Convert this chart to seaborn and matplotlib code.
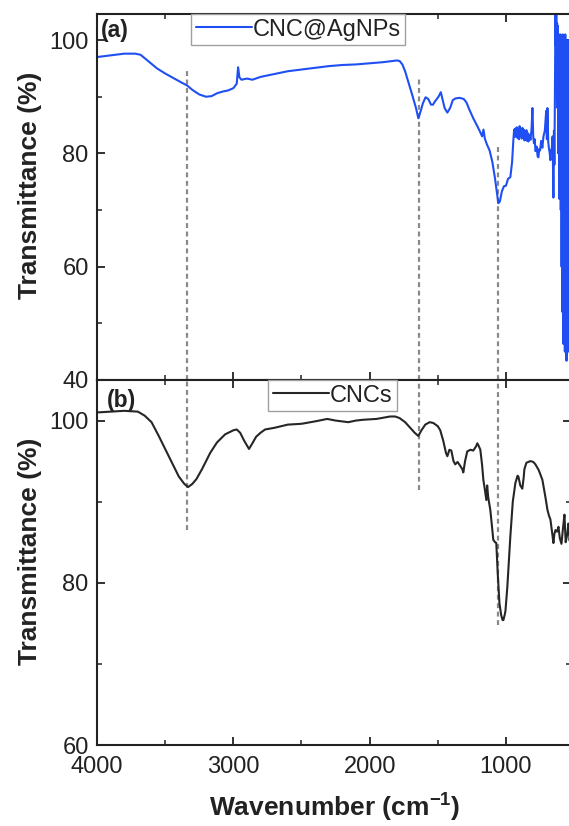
import matplotlib
matplotlib.use("Agg")
import matplotlib.pyplot as plt
import seaborn as sns
import pandas as pd
from matplotlib.ticker import MultipleLocator

# ---------------- data ----------------
agnp_wn = [4000, 3900, 3800, 3720, 3680, 3620, 3560, 3500, 3440, 3380, 3340, 3300, 3250, 3200,
           3160, 3120, 3080, 3040, 3000, 2975, 2965, 2955, 2940, 2900, 2860, 2800, 2700, 2600,
           2500, 2400, 2300, 2200, 2100, 2000, 1900, 1800, 1780, 1760, 1740, 1720, 1690, 1660,
           1643, 1625, 1610, 1590, 1570, 1550, 1535, 1520, 1495, 1478, 1465, 1450, 1430, 1410,
           1390, 1370, 1340, 1310, 1290, 1270, 1240, 1210, 1190, 1175, 1165, 1155, 1140, 1120,
           1100, 1080, 1065, 1056, 1045, 1030, 1015, 1000, 985, 968, 955, 946, 940, 935, 930,
           925, 920, 915, 910, 905, 900, 895, 890, 885, 880, 875, 870, 865, 860, 855, 850, 845,
           840, 835, 828, 820, 812, 806, 800, 795, 790, 783, 775, 768, 762, 756, 750, 742, 733,
           725, 715, 705, 700, 696, 690, 685, 680, 674, 670, 665, 658, 652, 648, 645,
           641, 637, 634, 631, 628, 625, 622, 619, 616, 613, 610, 607, 604, 601, 598,
           595, 592, 589, 586, 583, 580, 577, 574, 571, 568, 565, 562, 559, 556, 553,
           550, 547, 544, 541, 538, 535, 532, 529, 526, 523]
agnp_t = [97.0, 97.3, 97.6, 97.6, 97.4, 96.2, 95.0, 94.1, 93.3, 92.5, 92.0, 91.2, 90.4, 90.0,
          90.1, 90.6, 90.9, 91.1, 91.5, 92.3, 95.2, 93.4, 93.0, 93.2, 93.0, 93.5, 94.0, 94.5,
          94.8, 95.1, 95.4, 95.6, 95.7, 95.9, 96.1, 96.4, 96.3, 95.7, 94.5, 92.9, 90.5, 88.0,
          86.2, 87.5, 88.8, 89.9, 89.6, 88.6, 88.6, 89.2, 90.0, 90.8, 89.5, 88.0, 87.2, 88.0,
          89.4, 89.7, 89.8, 89.6, 89.0, 87.8, 86.2, 84.8, 83.8, 83.0, 84.2, 82.6, 81.6, 80.5,
          78.5, 75.5, 72.8, 71.2, 71.5, 73.3, 74.2, 74.3, 75.5, 75.8, 78.5, 82.3, 84.2, 82.9, 84.4,
          83.0, 84.6, 82.7, 84.3, 82.5, 84.8, 83.1, 84.0, 82.6, 84.5, 82.9, 84.2, 82.3, 83.9,
          82.4, 84.1, 82.2, 83.6, 82.1, 83.3, 82.4, 84.5, 88.0, 83.0, 81.8, 82.5, 80.4, 81.2,
          79.5, 79.3, 80.8, 80.5, 82.2, 81.0, 83.0, 84.0, 87.5, 82.5, 88.0, 82.0, 80.9, 80.2,
          78.8, 80.6, 80.5, 83.0, 72.2, 84.0, 78.0,
          90.0, 106.0, 99.0, 104.5, 97.0, 103.0, 88.0, 102.5, 80.0, 101.0, 72.0, 100.0, 84.0,
          101.0, 70.0,
          99.0, 60.0, 100.0, 52.0, 101.0, 46.4, 100.0, 49.0, 99.5, 45.0, 101.0, 47.0, 100.0,
          43.4, 99.5, 46.0, 99.0, 45.0, 100.0, 48.0, 99.5, 46.0, 99.0, 47.0, 98.5]

cnc_wn = [4000, 3900, 3800, 3700, 3650, 3600, 3550, 3500, 3450, 3400, 3360, 3332, 3300, 3270,
          3230, 3170, 3120, 3060, 3000, 2975, 2950, 2920, 2885, 2860, 2833, 2800, 2767, 2700,
          2600, 2500, 2400, 2311, 2250, 2157, 2100, 2047, 1950, 1850, 1812, 1780, 1740, 1702,
          1670, 1643, 1620, 1592, 1560, 1533, 1500, 1482, 1460, 1440, 1430, 1415, 1401, 1385,
          1372, 1355, 1335, 1320, 1313, 1300, 1284, 1260, 1240, 1220, 1210, 1198, 1188, 1175,
          1166, 1155, 1144, 1138, 1130, 1115, 1100, 1093, 1080, 1071, 1060, 1048, 1035, 1025,
          1019, 1010, 1004, 990, 968, 950, 931, 915, 909, 895, 880, 870, 865, 850, 821, 800, 784,
          760, 733, 710, 696, 685, 674, 660, 652, 645, 637, 625, 615, 605, 593, 580, 571, 562,
          550, 542, 533, 523]
cnc_t = [101.0, 101.1, 101.2, 101.1, 100.6, 99.8, 98.2, 96.5, 94.8, 93.1, 92.2, 91.8, 92.2, 92.8,
         94.0, 96.0, 97.3, 98.3, 98.8, 98.9, 98.5, 97.5, 96.5, 97.2, 98.0, 98.5, 98.9, 99.1,
         99.5, 99.6, 99.9, 100.2, 100.0, 99.8, 100.0, 100.1, 100.2, 100.5, 100.5, 100.3, 99.8, 99.1,
         98.5, 98.1, 98.8, 99.5, 99.8, 99.7, 99.3, 98.8, 97.5, 96.0, 95.6, 96.4, 96.3, 95.0,
         94.6, 94.9, 94.4, 94.0, 93.6, 95.0, 96.2, 96.4, 96.3, 96.8, 97.2, 96.8, 96.4, 94.5,
         92.7, 91.5, 90.2, 92.0, 90.5, 89.0, 86.5, 85.3, 85.0, 84.9, 81.0, 77.5, 76.0, 75.4,
         75.4, 76.0, 76.5, 79.5, 85.7, 90.0, 92.3, 93.2, 93.1, 92.0, 91.6, 93.0, 94.0, 94.8, 95.0,
         94.9, 94.6, 93.9, 92.7, 90.5, 89.0, 88.3, 87.8, 86.0, 84.9, 86.0, 86.5, 86.3, 86.9,
         85.5, 84.8, 87.0, 88.4, 85.0, 86.0, 87.3, 85.2, 86.5]

# marker lines: wavenumber, end value in top panel, end value in bottom panel
mark_wn = [3340, 1640, 1060]
mark_top_end = [94.7, 93.3, 81.4]
mark_bot_end = [86.5, 91.5, 74.8]

labels = ["CNC@AgNPs", "CNCs"]
xlabel = "Wavenumber (cm$^{-1}$)"
ylabel = "Transmittance (%)"

# ---------------- style ----------------
sns.set_theme(style="white")
plt.rcParams["font.family"] = ["Liberation Sans", "DejaVu Sans"]
plt.rcParams["mathtext.fontset"] = "custom"
plt.rcParams["mathtext.rm"] = "Liberation Sans:bold"
plt.rcParams["mathtext.it"] = "Liberation Sans:bold"
plt.rcParams["mathtext.bf"] = "Liberation Sans:bold"

W, H = 569, 826
fig = plt.figure(figsize=(W / 100, H / 100), dpi=100)
L, R = 97, 571
ax1 = fig.add_axes([L / W, 1 - 380 / H, (R - L) / W, (380 - 14) / H])
ax2 = fig.add_axes([L / W, 1 - 745 / H, (R - L) / W, (745 - 380) / H], sharex=ax1)

df1 = pd.DataFrame({"wn": agnp_wn, "T": agnp_t})
df2 = pd.DataFrame({"wn": cnc_wn, "T": cnc_t})

sns.lineplot(data=df1, x="wn", y="T", ax=ax1, color="#1f4ff2", lw=1.5,
             estimator=None, sort=False, label=labels[0])
sns.lineplot(data=df2, x="wn", y="T", ax=ax2, color="#262626", lw=1.5,
             estimator=None, sort=False, label=labels[1])

dash = (0, (2.2, 1.6))
for w, e1, e2 in zip(mark_wn, mark_top_end, mark_bot_end):
    ax1.vlines(w, 40, e1, colors="#8a8a8a", linestyles=[dash], lw=1.6, zorder=1)
    ax2.vlines(w, e2, 105, colors="#8a8a8a", linestyles=[dash], lw=1.6, zorder=1)

ax1.set_xlim(4000, 523)
ax1.set_ylim(40, 104.6)
ax2.set_ylim(60, 105)

for ax in (ax1, ax2):
    ax.set_xlabel("")
    ax.set_ylabel("")
    for s in ax.spines.values():
        s.set_color("#222222")
        s.set_linewidth(1.5)
        s.set_visible(True)
    ax.xaxis.set_major_locator(MultipleLocator(1000))
    ax.xaxis.set_minor_locator(MultipleLocator(500))
    ax.tick_params(which="both", direction="in", top=True, right=True, bottom=True, left=True,
                   colors="#222222", labelcolor="#222222", labelsize=17, pad=6)
    ax.tick_params(which="major", length=6, width=1.3)
    ax.tick_params(which="minor", length=3.5, width=1.1)

ax1.yaxis.set_major_locator(MultipleLocator(20))
ax1.yaxis.set_minor_locator(MultipleLocator(10))
ax2.yaxis.set_major_locator(MultipleLocator(20))
ax2.yaxis.set_minor_locator(MultipleLocator(10))
ax1.tick_params(labelbottom=False)
ax2.tick_params(axis="x", pad=8)

for ax, anchor in ((ax1, (191 - L) / (R - L)), (ax2, (268 - L) / (R - L))):
    leg = ax.legend(loc="upper left", bbox_to_anchor=(anchor, 1.0), borderaxespad=0,
                    frameon=True, fancybox=False, edgecolor="#a0a0a0", framealpha=1,
                    fontsize=17, handlelength=2.4, handletextpad=0.0, borderpad=0.2)
    leg.get_frame().set_linewidth(1.0)
    for t in leg.get_texts():
        t.set_color("#222222")

ax1.text(0.008, 0.985, "(a)", transform=ax1.transAxes, ha="left", va="top",
         fontsize=16.5, fontweight="bold", color="#222222")
ax2.text(0.02, 0.975, "(b)", transform=ax2.transAxes, ha="left", va="top",
         fontsize=16.5, fontweight="bold", color="#222222")

fig.text(30 / W, 1 - 185 / H, ylabel, rotation=90, ha="center", va="center",
         fontsize=19, fontweight="bold", color="#222222")
fig.text(30 / W, 1 - 551 / H, ylabel, rotation=90, ha="center", va="center",
         fontsize=19, fontweight="bold", color="#222222")
fig.text(335 / W, 1 - 808 / H, xlabel, ha="center", va="center",
         fontsize=19, fontweight="bold", color="#222222")

fig.savefig("out.png", dpi=100)
